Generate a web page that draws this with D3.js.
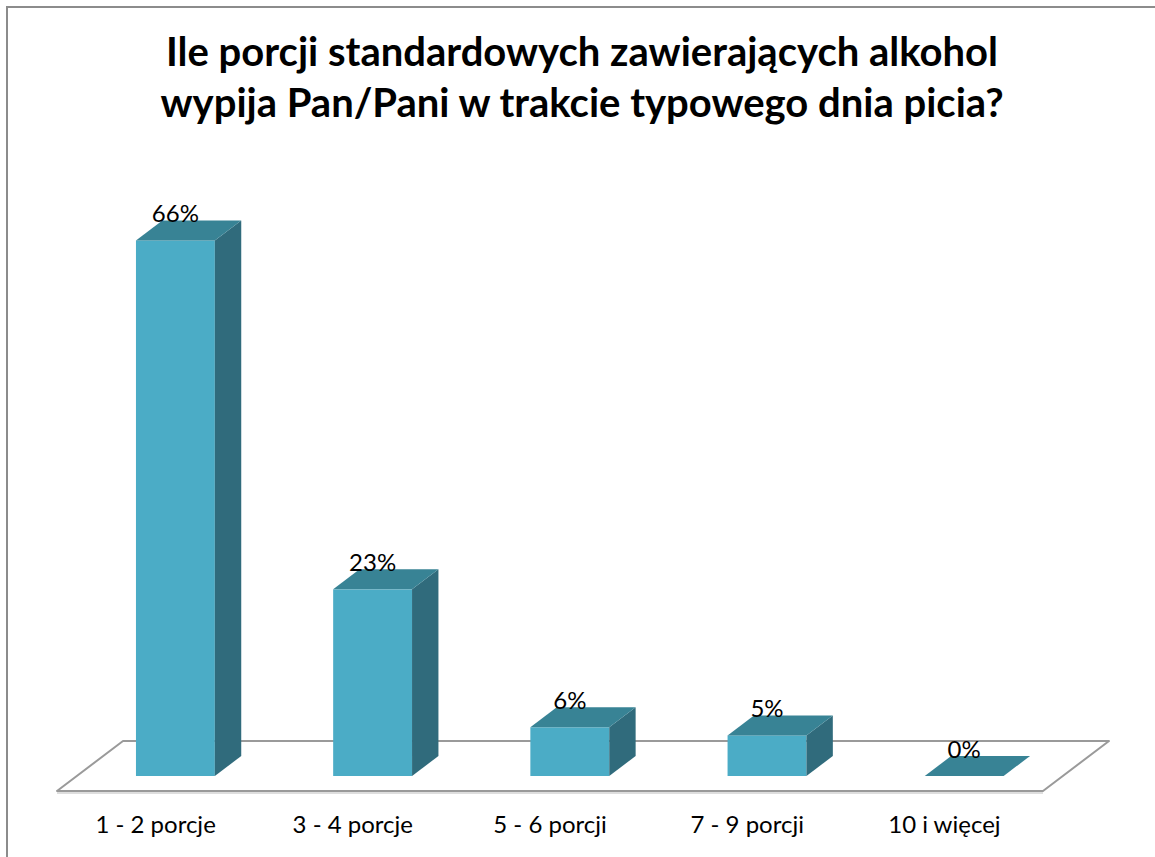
<!DOCTYPE html>
<html>
<head>
<meta charset="utf-8">
<script src="https://cdn.jsdelivr.net/npm/d3@7/dist/d3.min.js"></script>
<style>
  body { margin: 0; background: #fff; }
  svg { display: block; font-family: Lato, "Liberation Sans", sans-serif; }
</style>
</head>
<body>
<svg width="1155" height="857"></svg>
<script>
const categories = ['1 - 2 porcje', '3 - 4 porcje', '5 - 6 porcji', '7 - 9 porcji', '10 i więcej'];
const values = [66, 23, 6, 5, 0];
const titleLines = ['Ile porcji standardowych zawierających alkohol', 'wypija Pan/Pani w trakcie typowego dnia picia?'];

const svg = d3.select('svg');

// outer frame
svg.append('rect')
  .attr('x', 7).attr('y', 7)
  .attr('width', 1300).attr('height', 1000)
  .attr('fill', 'none')
  .attr('stroke', '#8c8c8c')
  .attr('stroke-width', 2);

// title
svg.append('text')
  .attr('x', 582)
  .attr('text-anchor', 'middle')
  .attr('font-size', 40)
  .attr('font-weight', 'bold')
  .selectAll('tspan')
  .data(titleLines)
  .enter()
  .append('tspan')
  .attr('x', 582)
  .attr('y', (d, i) => 66 + i * 51)
  .text(d => d);

// floor front edge and depth vector
const floorY = 791;
const depth = [66, -50];
const frontFrac = 0.3, backFrac = 0.7;

const xScale = d3.scaleBand()
  .domain(categories)
  .range([57, 1043])
  .paddingInner(0.6)
  .paddingOuter(0.3);

const yScale = d3.scaleLinear()
  .domain([0, 70])
  .range([floorY, floorY - 568]);

const floor = svg.append('g');
const fl = [[57, floorY], [1043, floorY], [1043 + depth[0], floorY + depth[1]], [57 + depth[0], floorY + depth[1]]];
floor.append('line')
  .attr('x1', fl[0][0]).attr('y1', floorY + 2)
  .attr('x2', fl[1][0]).attr('y2', floorY + 2)
  .attr('stroke', '#dedede').attr('stroke-width', 2);
floor.append('polygon')
  .attr('points', fl.map(p => p.join(',')).join(' '))
  .attr('fill', '#fff')
  .attr('stroke', '#9a9a9a')
  .attr('stroke-width', 2)
  .attr('stroke-linejoin', 'round');

const fx = frontFrac * depth[0], fy = frontFrac * depth[1];
const bx = (backFrac - frontFrac) * depth[0], by = (backFrac - frontFrac) * depth[1];
const bw = xScale.bandwidth();

const bars = svg.selectAll('.bar')
  .data(categories.map((c, i) => ({cat: c, value: values[i]})))
  .enter()
  .append('g')
  .attr('class', 'bar');

// front face
bars.append('rect')
  .attr('x', d => xScale(d.cat) + fx)
  .attr('y', d => yScale(d.value) + fy)
  .attr('width', bw)
  .attr('height', d => yScale(0) - yScale(d.value))
  .attr('fill', '#4bacc6');

// side face
bars.append('polygon')
  .attr('points', d => {
    const x0 = xScale(d.cat) + fx + bw;
    const yt = yScale(d.value) + fy, yb = yScale(0) + fy;
    return [[x0, yt], [x0 + bx, yt + by], [x0 + bx, yb + by], [x0, yb]].map(p => p.join(',')).join(' ');
  })
  .attr('fill', '#306b7c');

// top face
bars.append('polygon')
  .attr('points', d => {
    const x0 = xScale(d.cat) + fx;
    const yt = yScale(d.value) + fy;
    return [[x0, yt], [x0 + bw, yt], [x0 + bw + bx, yt + by], [x0 + bx, yt + by]].map(p => p.join(',')).join(' ');
  })
  .attr('fill', '#388395');

// value labels
bars.append('text')
  .attr('x', d => xScale(d.cat) + fx + bw / 2)
  .attr('y', d => yScale(d.value) + fy - 18)
  .attr('text-anchor', 'middle')
  .attr('font-size', 24)
  .attr('fill', '#000')
  .text(d => `${d.value}%`);

// category axis
const axis = svg.append('g')
  .attr('transform', `translate(0, ${floorY})`)
  .call(d3.axisBottom(xScale).tickSize(0).tickPadding(25));
axis.select('.domain').remove();
axis.selectAll('text')
  .attr('font-size', 24)
  .attr('font-family', 'Lato, "Liberation Sans", sans-serif')
  .attr('fill', '#000');
</script>
</body>
</html>
